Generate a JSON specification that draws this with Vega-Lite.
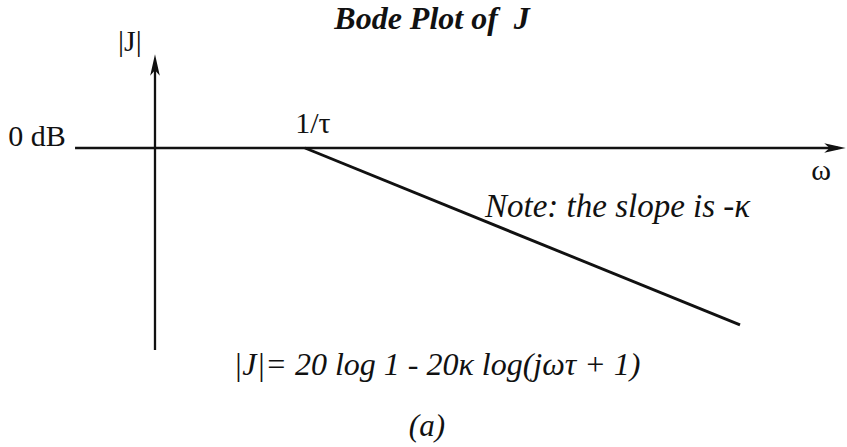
{
  "$schema": "https://vega.github.io/schema/vega-lite/v6.json",
  "width": 847,
  "height": 447,
  "padding": 0,
  "autosize": {"type": "fit", "contains": "padding"},
  "background": "white",
  "config": {
    "view": {"stroke": null},
    "text": {"font": "Liberation Serif", "color": "#111111", "baseline": "alphabetic"}
  },
  "datasets": {
    "axes": [
      {"axis": "omega", "x": -1.533, "x2": 3.553, "y": 0, "y2": 0},
      {"axis": "J", "x": -1.0, "x2": -1.0, "y": -66.2, "y2": 25.6}
    ],
    "arrows": [
      {"axis": "omega", "x": 3.533, "y": 0, "dir": "right"},
      {"axis": "J", "x": -1.0, "y": 27.2, "dir": "up"}
    ],
    "asymptote": [
      {"logwt": 0, "dB": 0},
      {"logwt": 2.9, "dB": -58}
    ],
    "labels": [
      {"role": "title", "text": "Bode Plot of\u00a0\u00a0J", "x": 0.847, "y": 38.9},
      {"role": "axisname", "text": "|J|", "x": -1.167, "y": 31.8},
      {"role": "axisname", "text": "0 dB", "x": -1.787, "y": 0.66},
      {"role": "axisname", "text": "1/τ", "x": 0.053, "y": 4.9},
      {"role": "axisname", "text": "ω", "x": 3.44, "y": -10.5},
      {"role": "note", "text": "Note: the slope is -κ", "x": 1.2, "y": -22.6},
      {"role": "formula", "text": "|J|= 20 log 1 - 20κ log(jωτ + 1)", "x": 0.88, "y": -74.4},
      {"role": "caption", "text": "(a)", "x": 0.813, "y": -94.4}
    ]
  },
  "layer": [
    {
      "data": {"name": "axes"},
      "mark": {"type": "rule", "color": "#111111", "strokeWidth": 2.3},
      "encoding": {
        "x": {"field": "x", "type": "quantitative", "scale": {"domain": [-2.0333, 3.6133], "nice": false, "zero": false}, "axis": null},
        "x2": {"field": "x2"},
        "y": {"field": "y", "type": "quantitative", "scale": {"domain": [-98, 48.5], "nice": false, "zero": false}, "axis": null},
        "y2": {"field": "y2"}
      }
    },
    {
      "data": {"name": "arrows"},
      "mark": {"type": "point", "filled": true, "color": "#111111", "opacity": 1, "size": 460},
      "encoding": {
        "x": {"field": "x", "type": "quantitative"},
        "y": {"field": "y", "type": "quantitative"},
        "shape": {
          "field": "dir",
          "type": "nominal",
          "scale": {
            "domain": ["right", "up"],
            "range": ["M -1 -0.45 L 1 0 L -1 0.45 L -0.5 0 Z", "M -0.45 1 L 0 -1 L 0.45 1 L 0 0.5 Z"]
          },
          "legend": null
        }
      }
    },
    {
      "data": {"name": "asymptote"},
      "mark": {"type": "line", "color": "#111111", "strokeWidth": 2.9},
      "encoding": {
        "x": {"field": "logwt", "type": "quantitative"},
        "y": {"field": "dB", "type": "quantitative"}
      }
    },
    {
      "data": {"name": "labels"},
      "transform": [{"filter": "datum.role === 'title'"}],
      "mark": {"type": "text", "font": "Liberation Serif", "align": "center", "fontSize": 32, "fontStyle": "italic", "fontWeight": "bold"},
      "encoding": {
        "x": {"field": "x", "type": "quantitative"},
        "y": {"field": "y", "type": "quantitative"},
        "text": {"field": "text"}
      }
    },
    {
      "data": {"name": "labels"},
      "transform": [{"filter": "datum.role === 'axisname'"}],
      "mark": {"type": "text", "font": "Liberation Serif", "align": "center", "fontSize": 30},
      "encoding": {
        "x": {"field": "x", "type": "quantitative"},
        "y": {"field": "y", "type": "quantitative"},
        "text": {"field": "text"}
      }
    },
    {
      "data": {"name": "labels"},
      "transform": [{"filter": "datum.role === 'note'"}],
      "mark": {"type": "text", "font": "Liberation Serif", "align": "left", "fontSize": 33, "fontStyle": "italic"},
      "encoding": {
        "x": {"field": "x", "type": "quantitative"},
        "y": {"field": "y", "type": "quantitative"},
        "text": {"field": "text"}
      }
    },
    {
      "data": {"name": "labels"},
      "transform": [{"filter": "datum.role === 'formula'"}],
      "mark": {"type": "text", "font": "Liberation Serif", "align": "center", "fontSize": 32, "fontStyle": "italic"},
      "encoding": {
        "x": {"field": "x", "type": "quantitative"},
        "y": {"field": "y", "type": "quantitative"},
        "text": {"field": "text"}
      }
    },
    {
      "data": {"name": "labels"},
      "transform": [{"filter": "datum.role === 'caption'"}],
      "mark": {"type": "text", "font": "Liberation Serif", "align": "center", "fontSize": 31, "fontStyle": "italic"},
      "encoding": {
        "x": {"field": "x", "type": "quantitative"},
        "y": {"field": "y", "type": "quantitative"},
        "text": {"field": "text"}
      }
    }
  ]
}
